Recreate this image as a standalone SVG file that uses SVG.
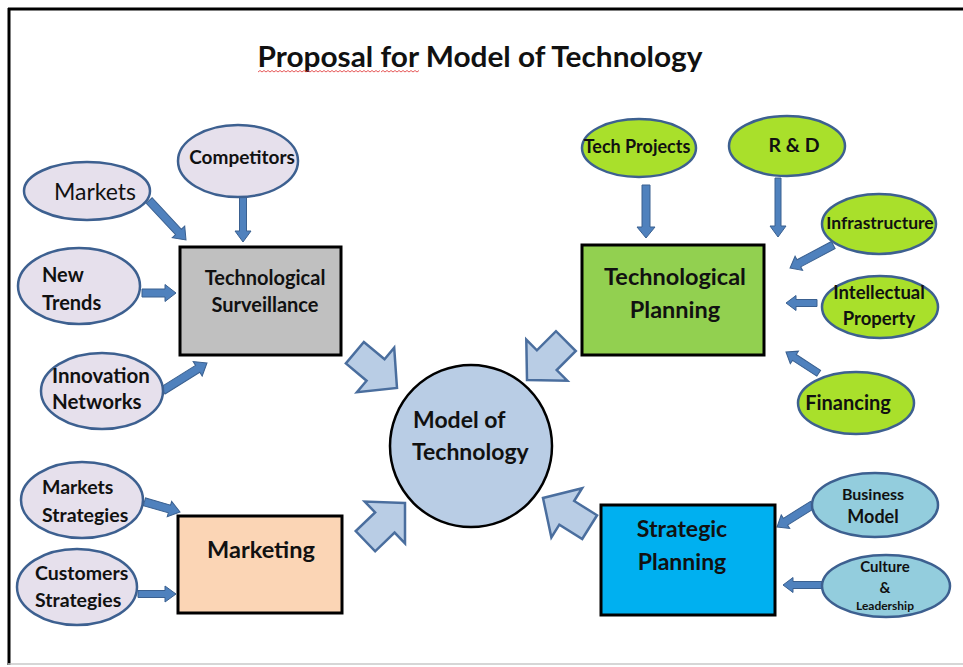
<svg xmlns="http://www.w3.org/2000/svg" width="963" height="667" viewBox="0 0 963 667">
<style>
text{font-family:Lato,"Liberation Sans",sans-serif;font-weight:bold;fill:#111;}
.c{text-anchor:middle;}
.ell{stroke:#3d6090;stroke-width:2.5;}
.lav{fill:#e6e0ec;}
.grn{fill:#a9e02b;}
.blu{fill:#93cddd;}
.box{stroke:#000;stroke-width:3;}
.sa{fill:#4f81bd;stroke:#3a6090;stroke-width:1;}
.ba{fill:#b9cde5;stroke:#4a6e9e;stroke-width:2.5;stroke-linejoin:miter;}
</style>
<defs>
<polygon id="big" points="0,0 -28,-29 -28,-14 -55,-14 -55,14 -28,14 -28,29"/>
</defs>
<rect width="963" height="667" fill="#fff"/>
<g id="frame">
<line x1="8" y1="9" x2="963" y2="9" stroke="#000" stroke-width="3"/>
<line x1="9" y1="8" x2="9" y2="665" stroke="#000" stroke-width="3"/>
<line x1="8" y1="664" x2="963" y2="664" stroke="#c8c8c8" stroke-width="1.5"/>
</g>
<g id="title">
<text x="480" y="67" class="c" font-size="28" textLength="445" lengthAdjust="spacingAndGlyphs">Proposal for Model of Technology</text>
<path d="M258,72 l2,-1.5 l2,1.5 l2,-1.5 l2,1.5 l2,-1.5 l2,1.5 l2,-1.5 l2,1.5 l2,-1.5 l2,1.5 l2,-1.5 l2,1.5 l2,-1.5 l2,1.5 l2,-1.5 l2,1.5 l2,-1.5 l2,1.5 l2,-1.5 l2,1.5 l2,-1.5 l2,1.5 l2,-1.5 l2,1.5 l2,-1.5 l2,1.5 l2,-1.5 l2,1.5 l2,-1.5 l2,1.5 l2,-1.5 l2,1.5 l2,-1.5 l2,1.5 l2,-1.5 l2,1.5 l2,-1.5 l2,1.5 l2,-1.5 l2,1.5 l2,-1.5 l2,1.5 l2,-1.5 l2,1.5 l2,-1.5 l2,1.5 l2,-1.5 l2,1.5 l2,-1.5 l2,1.5 l2,-1.5 l2,1.5 l2,-1.5 l2,1.5 l2,-1.5 l2,1.5 l2,-1.5 l2,1.5 l2,-1.5 l2,1.5 l2,-1.5" fill="none" stroke="#e03030" stroke-width="0.8"/>
<path d="M381,72 l2,-1.5 l2,1.5 l2,-1.5 l2,1.5 l2,-1.5 l2,1.5 l2,-1.5 l2,1.5 l2,-1.5 l2,1.5 l2,-1.5 l2,1.5 l2,-1.5 l2,1.5 l2,-1.5 l2,1.5 l2,-1.5 l2,1.5 l2,-1.5" fill="none" stroke="#e03030" stroke-width="0.8"/>
</g>

<g id="connectors">
<polygon class="sa" transform="translate(186,240) rotate(47)" points="0,0 -11,-8.5 -11,-4 -54,-4 -54,4 -11,4 -11,8.5"/>
<polygon class="sa" transform="translate(243,242) rotate(90)" points="0,0 -11,-8 -11,-3.5 -46,-3.5 -46,3.5 -11,3.5 -11,8"/>
<polygon class="sa" transform="translate(176,293) rotate(0)" points="0,0 -11,-8.5 -11,-4 -34,-4 -34,4 -11,4 -11,8.5"/>
<polygon class="sa" transform="translate(207,363) rotate(-32)" points="0,0 -11,-8.5 -11,-4 -52,-4 -52,4 -11,4 -11,8.5"/>
<polygon class="sa" transform="translate(646,238) rotate(90)" points="0,0 -11,-9 -11,-4 -53,-4 -53,4 -11,4 -11,9"/>
<polygon class="sa" transform="translate(778,237) rotate(90)" points="0,0 -11,-8 -11,-3 -59,-3 -59,3 -11,3 -11,8"/>
<polygon class="sa" transform="translate(790,268) rotate(152)" points="0,0 -10,-8 -10,-4 -49,-4 -49,4 -10,4 -10,8"/>
<polygon class="sa" transform="translate(786,303) rotate(180)" points="0,0 -10,-7.5 -10,-3.5 -31,-3.5 -31,3.5 -10,3.5 -10,7.5"/>
<polygon class="sa" transform="translate(786,352) rotate(213)" points="0,0 -10,-7.5 -10,-3.5 -39,-3.5 -39,3.5 -10,3.5 -10,7.5"/>
<polygon class="sa" transform="translate(180,512) rotate(16)" points="0,0 -11,-8 -11,-4 -37,-4 -37,4 -11,4 -11,8"/>
<polygon class="sa" transform="translate(176,594) rotate(0)" points="0,0 -11,-8 -11,-3.5 -38,-3.5 -38,3.5 -11,3.5 -11,8"/>
<polygon class="sa" transform="translate(777,527) rotate(148)" points="0,0 -10,-8 -10,-4 -42,-4 -42,4 -10,4 -10,8"/>
<polygon class="sa" transform="translate(783,585) rotate(180)" points="0,0 -10,-7.5 -10,-3.5 -40,-3.5 -40,3.5 -10,3.5 -10,7.5"/>
<use href="#big" class="ba" transform="translate(397,388) rotate(40)"/>
<use href="#big" class="ba" transform="translate(527,380) rotate(135)"/>
<use href="#big" class="ba" transform="translate(405,503) rotate(-44)"/>
<use href="#big" class="ba" transform="translate(543,498) rotate(212)"/>
</g>

<g id="center">
<circle cx="471" cy="446" r="81" fill="#b9cde5" stroke="#000" stroke-width="2.5"/>
<text x="413" y="428" font-size="23">Model of</text>
<text x="412" y="460" font-size="23">Technology</text>
</g>

<g id="tech-surveillance">
<rect class="box" x="180" y="247" width="161" height="108" fill="#c0c0c0"/>
<text x="265" y="285" class="c" font-size="20">Technological</text>
<text x="265" y="312" class="c" font-size="20">Surveillance</text>
</g>
<g id="competitors">
<ellipse class="ell lav" cx="238" cy="161" rx="60" ry="36"/>
<text x="242" y="164" class="c" font-size="19">Competitors</text>
</g>
<g id="markets">
<ellipse class="ell lav" cx="87" cy="191" rx="63" ry="29"/>
<text x="95" y="200" class="c" font-size="23" style="font-weight:normal">Markets</text>
</g>
<g id="new-trends">
<ellipse class="ell lav" cx="79" cy="286" rx="61" ry="38"/>
<text x="42" y="282" font-size="20">New</text>
<text x="42" y="310" font-size="20">Trends</text>
</g>
<g id="innovation-networks">
<ellipse class="ell lav" cx="102" cy="391" rx="61" ry="38"/>
<text x="52" y="383" font-size="20.5">Innovation</text>
<text x="52" y="409" font-size="20.5">Networks</text>
</g>

<g id="tech-planning">
<rect class="box" x="582" y="245" width="182" height="110" fill="#92d050"/>
<text x="675" y="285" class="c" font-size="23.5">Technological</text>
<text x="675" y="318" class="c" font-size="23.5">Planning</text>
</g>
<g id="tech-projects">
<ellipse class="ell grn" cx="639" cy="148" rx="57" ry="29"/>
<text x="637" y="153" class="c" font-size="18">Tech Projects</text>
</g>
<g id="rnd">
<ellipse class="ell grn" cx="787" cy="146" rx="58" ry="30"/>
<text x="794" y="152" class="c" font-size="19.5">R &amp; D</text>
</g>
<g id="infrastructure">
<ellipse class="ell grn" cx="879" cy="224" rx="57" ry="30"/>
<text x="880" y="229" class="c" font-size="17.5">Infrastructure</text>
</g>
<g id="intellectual-property">
<ellipse class="ell grn" cx="880" cy="307" rx="58" ry="31"/>
<text x="879" y="299" class="c" font-size="18.5">Intellectual</text>
<text x="879" y="325" class="c" font-size="18.5">Property</text>
</g>
<g id="financing">
<ellipse class="ell grn" cx="856" cy="403" rx="58" ry="31"/>
<text x="848" y="410" class="c" font-size="20">Financing</text>
</g>

<g id="marketing">
<rect class="box" x="178" y="516" width="164" height="97" fill="#fbd5b5"/>
<text x="261" y="558" class="c" font-size="23.5">Marketing</text>
</g>
<g id="markets-strategies">
<ellipse class="ell lav" cx="82" cy="500" rx="61" ry="38"/>
<text x="42" y="494" font-size="19.5">Markets</text>
<text x="42" y="522" font-size="19.5">Strategies</text>
</g>
<g id="customers-strategies">
<ellipse class="ell lav" cx="77" cy="587" rx="60" ry="38"/>
<text x="35" y="580" font-size="19.5">Customers</text>
<text x="35" y="607" font-size="19.5">Strategies</text>
</g>

<g id="strategic-planning">
<rect class="box" x="601" y="505" width="174" height="110" fill="#00b0f0"/>
<text x="682" y="537" class="c" font-size="23">Strategic</text>
<text x="682" y="570" class="c" font-size="23">Planning</text>
</g>
<g id="business-model">
<ellipse class="ell blu" cx="875" cy="505" rx="63" ry="32"/>
<text x="873" y="500" class="c" font-size="16">Business</text>
<text x="873" y="523" class="c" font-size="18">Model</text>
</g>
<g id="culture-leadership">
<ellipse class="ell blu" cx="886" cy="586" rx="64" ry="31"/>
<text x="885" y="572" class="c" font-size="15">Culture</text>
<text x="885" y="593" class="c" font-size="15">&amp;</text>
<text x="885" y="610" class="c" font-size="12">Leadership</text>
</g>
</svg>
